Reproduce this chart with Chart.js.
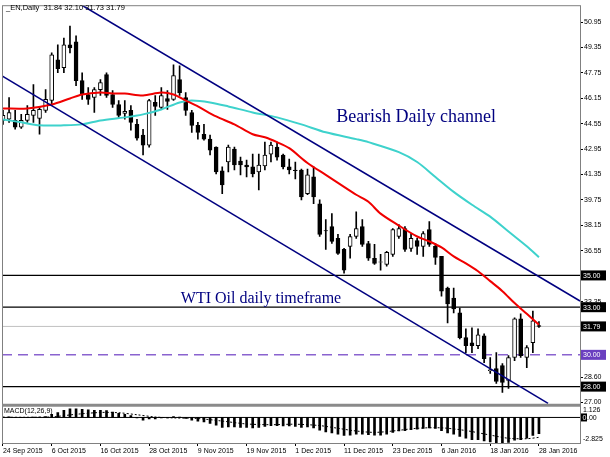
<!DOCTYPE html>
<html>
<head>
<meta charset="utf-8">
<script src="https://cdn.jsdelivr.net/npm/chart.js@4.4.0/dist/chart.umd.min.js"></script>
<style>
html, body { margin: 0; padding: 0; background: #fff; }
</style>
</head>
<body>
<canvas id="myChart" width="610" height="457"></canvas>
<script>
// daily candles, 24 Sep 2015 .. 28 Jan 2016 (bar index 0..88)
const opens = [44.76,44.83,44.76,44.33,44.76,45.08,44.89,45.39,46.01,48.58,
	48.08,49.51,49.70,47.26,46.39,46.20,46.70,47.64,46.39,45.76,
	45.20,45.39,44.51,43.83,43.20,45.89,45.58,46.14,46.08,47.33,
	46.20,45.26,44.45,43.89,43.58,43.08,41.58,42.14,42.95,42.20,
	41.95,41.83,41.51,41.89,42.64,43.08,42.58,41.83,41.64,41.64,
	40.14,41.20,39.51,37.83,38.08,37.33,36.64,36.83,37.45,38.08,
	37.01,36.08,35.83,35.70,36.33,37.45,37.95,36.70,37.20,36.83,
	37.89,36.83,36.20,34.20,33.58,32.64,31.08,30.76,30.58,31.20,
	29.01,29.14,29.33,28.39,29.83,32.26,29.83,30.76,31.84];
const highs = [45.39,46.20,45.39,45.14,45.70,47.01,45.64,46.70,49.01,49.51,
	49.95,50.70,50.08,47.76,46.83,46.83,47.33,47.76,46.64,46.01,
	46.01,45.70,44.83,44.20,46.08,46.33,46.83,46.64,48.26,48.20,
	46.51,45.39,44.64,44.51,43.83,43.10,41.83,43.20,43.08,42.45,
	42.26,42.64,42.64,43.39,43.39,43.39,42.64,42.33,42.14,41.70,
	41.70,41.83,39.76,38.51,38.89,37.58,36.70,37.58,39.01,38.51,
	37.14,36.95,36.33,36.51,37.95,38.20,38.08,37.64,37.33,37.76,
	38.39,37.01,36.20,34.26,34.20,32.95,31.64,31.70,31.64,31.33,
	29.83,30.14,29.45,29.95,32.33,32.58,30.58,32.76,32.10];
const lows = [44.51,44.64,44.20,44.26,44.64,44.64,43.89,45.26,45.70,47.76,
	47.76,49.01,46.95,46.08,45.76,45.26,46.33,46.20,45.58,44.95,
	44.83,44.14,43.51,42.58,43.08,45.08,45.45,45.45,46.01,46.33,
	45.08,44.01,43.58,43.51,42.58,41.39,40.14,41.51,41.64,41.33,
	41.20,41.20,40.39,41.64,42.14,42.26,41.70,41.39,41.08,39.76,
	40.08,39.51,37.45,36.64,37.01,36.33,35.14,36.08,37.33,36.83,
	35.95,35.70,35.33,35.58,36.20,37.33,36.51,36.51,36.33,36.20,
	36.83,35.70,33.70,32.01,32.64,31.01,30.14,30.14,30.39,29.51,
	28.83,28.20,27.64,27.89,29.64,29.83,29.20,30.14,31.73];
const closes = [45.08,45.26,44.33,44.76,45.14,45.39,45.45,46.08,48.89,48.01,
	49.51,49.33,47.26,46.39,46.08,46.70,47.14,46.33,45.76,45.08,
	45.33,44.64,43.64,43.20,46.01,45.64,46.33,45.95,47.58,46.51,
	45.39,44.45,44.01,43.58,42.89,41.51,40.70,43.08,41.95,41.95,
	41.83,41.39,41.95,42.58,43.20,42.45,41.83,41.64,41.60,39.95,
	41.33,39.95,37.58,37.80,37.14,36.39,35.33,37.45,37.95,36.95,
	36.08,35.76,35.86,36.45,37.89,37.95,36.64,37.33,36.83,37.64,
	36.95,36.14,34.01,33.20,32.89,31.08,30.58,30.58,31.26,29.76,
	29.05,28.33,28.26,29.83,32.26,29.95,30.45,32.14,31.79];

// moving averages: [bar, price]
const maRed = [[0,45.51],[4,45.51],[8,45.76],[11,46.14],[13,46.39],[16,46.51],[18,46.45],[20,46.45],
	[23,46.33],[26,46.51],[28,46.39],[30,46.01],[32,45.64],[35,45.01],[38,44.51],[41,43.89],
	[43,43.70],[45,43.39],[47,43.01],[50,42.08],[53,41.33],[56,40.58],[58,40.08],[60,39.64],
	[62,38.89],[65,38.14],[68,37.45],[70,37.14],[72,36.76],[74,36.20],[76,35.76],[78,35.26],
	[80,34.64],[82,34.01],[84,33.26],[86,32.58],[88,31.89]];
const maCyan = [[0,44.82],[3,44.64],[6,44.45],[10,44.45],[13,44.51],[16,44.76],[20,44.95],[23,45.14],
	[26,45.45],[29,45.89],[31,46.01],[34,45.89],[37,45.64],[41,45.26],[45,44.95],[49,44.51],
	[53,44.01],[58,43.58],[60,43.39],[65,42.76],[68,42.14],[71,41.20],[74,40.26],[77,39.45],
	[80,38.70],[83,37.76],[86,36.83],[88,36.14]];

// channel lines: [bar, price] end points
const upperChannel = [[12.97,52.01],[94.75,33.39]];
const lowerChannel = [[-0.49,47.64],[89.5,26.95]];

const hLevels = [35.00, 33.00, 28.00];
const dashedLevel = 30.00;

// MACD(12,26,9)
const macdMain = [0.05,0.06,0.02,-0.02,0.00,0.05,0.05,0.10,0.35,0.55,
	0.80,0.95,0.95,0.90,0.85,0.80,0.80,0.75,0.60,0.45,
	0.35,0.20,-0.05,-0.30,-0.15,-0.15,-0.05,-0.05,0.10,0.05,
	-0.10,-0.30,-0.40,-0.50,-0.65,-0.85,-1.10,-1.05,-1.05,-1.10,
	-1.10,-1.15,-1.10,-1.00,-0.90,-0.90,-0.95,-0.95,-1.00,-1.10,
	-1.05,-1.15,-1.40,-1.60,-1.70,-1.85,-2.00,-1.95,-1.85,-1.85,
	-1.90,-1.95,-1.95,-1.85,-1.65,-1.50,-1.45,-1.35,-1.30,-1.20,
	-1.15,-1.20,-1.45,-1.70,-1.85,-2.10,-2.30,-2.45,-2.45,-2.60,
	-2.70,-2.80,-2.80,-2.75,-2.50,-2.45,-2.30,-2.00,-1.80];
const macdSignal = [[0,0.02],[4,0.02],[8,0.06],[12,0.35],[16,0.55],[19,0.52],[22,0.3],[25,0.05],
	[28,-0.05],[32,-0.12],[36,-0.4],[40,-0.72],[44,-0.8],[48,-0.75],[52,-0.9],[55,-1.2],
	[58,-1.5],[61,-1.65],[64,-1.5],[68,-1.2],[72,-1.15],[76,-1.45],[80,-1.95],[83,-2.3],
	[86,-2.35],[88,-2.2]];

const tickBars = [0,8,16,24,32,40,48,56,64,72,80,88];
const tickLabels = ['24 Sep 2015','6 Oct 2015','16 Oct 2015','28 Oct 2015','9 Nov 2015','19 Nov 2015',
	'1 Dec 2015','11 Dec 2015','23 Dec 2015','6 Jan 2016','18 Jan 2016','28 Jan 2016'];
const priceTicks = [50.95,49.35,47.75,46.15,44.55,42.95,41.35,39.75,38.15,36.55,33.35,28.60,27.00];
const macdTicks = [1.126, -2.825];

const smallFont = { family: '"Liberation Sans", Arial, sans-serif', size: 7 };
const pts = arr => arr.map(p => ({ x: p[0], y: p[1] }));

const overlay = {
	id: 'overlay',
	beforeDatasetsDraw(chart) {
		const { ctx, chartArea: a, scales: { y, yMacd } } = chart;
		ctx.save();
		ctx.beginPath();
		ctx.rect(a.left, y.top, a.right - a.left, y.bottom - y.top);
		ctx.clip();
		// last price line
		let py = y.getPixelForValue(closes[closes.length - 1]);
		ctx.strokeStyle = '#c0c0c0';
		ctx.lineWidth = 1;
		ctx.beginPath(); ctx.moveTo(a.left, py); ctx.lineTo(a.right, py); ctx.stroke();
		// dashed level
		py = y.getPixelForValue(dashedLevel);
		ctx.strokeStyle = '#8a63cf';
		ctx.lineWidth = 1.5;
		ctx.setLineDash([10, 6]);
		ctx.beginPath(); ctx.moveTo(a.left, py); ctx.lineTo(a.right, py); ctx.stroke();
		ctx.setLineDash([]);
		// horizontal levels
		ctx.strokeStyle = '#000';
		ctx.lineWidth = 1.3;
		hLevels.forEach(v => {
			const ly = y.getPixelForValue(v);
			ctx.beginPath(); ctx.moveTo(a.left, ly); ctx.lineTo(a.right, ly); ctx.stroke();
		});
		ctx.restore();
		// macd zero line
		ctx.save();
		const zy = yMacd.getPixelForValue(0);
		ctx.strokeStyle = '#000';
		ctx.lineWidth = 1;
		ctx.beginPath(); ctx.moveTo(a.left, zy); ctx.lineTo(a.right, zy); ctx.stroke();
		ctx.restore();
	},
	afterDraw(chart) {
		const { ctx, chartArea: a, scales: { x, y, yMacd } } = chart;
		ctx.save();
		// frame
		ctx.strokeStyle = '#808080';
		ctx.lineWidth = 1;
		ctx.strokeRect(a.left + 0.5, a.top + 0.5, a.right - a.left, a.bottom - a.top);
		ctx.lineWidth = 3;
		ctx.strokeStyle = '#8a8a8a';
		ctx.beginPath(); ctx.moveTo(a.left, y.bottom); ctx.lineTo(a.right, y.bottom); ctx.stroke();

		// chart texts
		ctx.fillStyle = '#000080';
		ctx.textBaseline = 'middle';
		ctx.textAlign = 'left';
		ctx.font = '18px "Liberation Serif", "Times New Roman", serif';
		ctx.fillText('Bearish Daily channel', x.getPixelForValue(54.7), y.getPixelForValue(44.95));
		ctx.font = '16px "Liberation Serif", "Times New Roman", serif';
		ctx.fillText('WTI Oil daily timeframe', x.getPixelForValue(29.2), y.getPixelForValue(33.56));

		// header
		const n = closes.length - 1;
		ctx.fillStyle = '#000';
		ctx.font = '7.5px "Liberation Sans", Arial, sans-serif';
		ctx.fillText('_EN,Daily  ' + [opens[n], highs[n], lows[n], closes[n]].map(v => v.toFixed(2)).join(' '), 6, 8);
		ctx.font = '7px "Liberation Sans", Arial, sans-serif';
		ctx.fillText('MACD(12,26,9)', 4, yMacd.top + 6);

		// macd axis labels
		ctx.fillText(macdTicks[0].toFixed(3), a.right + 3, yMacd.top + 5);
		ctx.fillText(macdTicks[1].toFixed(3), a.right + 3, yMacd.bottom - 4);

		// price boxes on the axis
		const box = (v, bg, txt) => {
			const by = y.getPixelForValue(v);
			ctx.fillStyle = bg;
			ctx.fillRect(a.right + 1, by - 5, 25, 10);
			ctx.fillStyle = '#fff';
			ctx.fillText(txt, a.right + 3, by + 0.5);
		};
		hLevels.forEach(v => box(v, '#000', v.toFixed(2)));
		box(closes[n], '#000', closes[n].toFixed(2));
		box(dashedLevel, '#6a3fc0', dashedLevel.toFixed(2));

		const zy = yMacd.getPixelForValue(0);
		ctx.fillStyle = '#000';
		ctx.fillRect(a.right + 1, zy - 4, 6, 8);
		ctx.fillText('.00', a.right + 7, zy + 0.5);
		ctx.fillStyle = '#fff';
		ctx.fillText('0', a.right + 2.5, zy + 0.5);
		ctx.restore();
	}
};

const ctx = document.getElementById('myChart');

const myChart = new Chart(ctx, {
	type: 'bar',
	data: {
		datasets: [
			{
				label: 'wick',
				data: lows.map((l, i) => ({ x: i, y: [l, highs[i]] })),
				backgroundColor: '#000',
				barThickness: 1,
				grouped: false,
				order: 4,
				yAxisID: 'y'
			},
			{
				label: 'body',
				data: opens.map((o, i) => ({ x: i, y: [Math.min(o, closes[i]), Math.max(o, closes[i])] })),
				backgroundColor: opens.map((o, i) => closes[i] >= o ? '#fff' : '#000'),
				borderColor: '#000',
				borderWidth: 1,
				borderSkipped: false,
				barThickness: 4,
				grouped: false,
				order: 3,
				yAxisID: 'y'
			},
			{
				type: 'line', label: 'MA red', data: pts(maRed), borderColor: '#f00000', borderWidth: 2,
				pointRadius: 0, tension: 0.3, order: 2, yAxisID: 'y'
			},
			{
				type: 'line', label: 'MA cyan', data: pts(maCyan), borderColor: '#3ed2cc', borderWidth: 2,
				pointRadius: 0, tension: 0.3, order: 2, yAxisID: 'y'
			},
			{
				type: 'line', label: 'upper', data: pts(upperChannel), borderColor: '#000080', borderWidth: 1.5,
				pointRadius: 0, order: 1, yAxisID: 'y'
			},
			{
				type: 'line', label: 'lower', data: pts(lowerChannel), borderColor: '#000080', borderWidth: 1.5,
				pointRadius: 0, order: 1, yAxisID: 'y'
			},
			{
				label: 'MACD',
				data: macdMain.map((v, i) => ({ x: i, y: v })),
				backgroundColor: '#000',
				barThickness: 2,
				grouped: false,
				order: 2,
				yAxisID: 'yMacd'
			},
			{
				type: 'line', label: 'Signal', data: pts(macdSignal), borderColor: '#000', borderWidth: 1,
				borderDash: [2, 2], pointRadius: 0, tension: 0.3, order: 1, yAxisID: 'yMacd'
			}
		]
	},
	options: {
		responsive: false,
		animation: false,
		layout: { padding: { left: 2, top: 2, right: 0, bottom: 0 } },
		scales: {
			x: {
				type: 'linear',
				min: -0.16,
				max: 94.74,
				offset: false,
				grid: { display: true, offset: false, drawOnChartArea: false, drawTicks: true, tickLength: 3, color: '#000' },
				border: { display: false },
				afterBuildTicks: s => { s.ticks = tickBars.map(v => ({ value: v })); },
				afterFit: s => { s.height = 14; },
				ticks: {
					font: smallFont, color: '#000', align: 'start', padding: 1,
					maxRotation: 0, autoSkip: false,
					callback: v => tickLabels[tickBars.indexOf(v)]
				}
			},
			y: {
				type: 'linear',
				position: 'right',
				stack: 'panes',
				stackWeight: 403,
				min: 26.825,
				max: 52.0125,
				grid: { drawOnChartArea: false, tickLength: 3, color: '#000' },
				border: { display: false },
				afterBuildTicks: s => { s.ticks = priceTicks.map(v => ({ value: v })); },
				afterFit: s => { s.width = 30; },
				ticks: { font: smallFont, color: '#000', padding: 1, callback: v => v.toFixed(2) }
			},
			yMacd: {
				type: 'linear',
				position: 'right',
				stack: 'panes',
				stackWeight: 38,
				min: -2.825,
				max: 1.346,
				grid: { display: false },
				border: { display: false },
				afterFit: s => { s.width = 30; },
				ticks: { display: false }
			}
		},
		plugins: {
			legend: { display: false },
			tooltip: { enabled: false }
		}
	},
	plugins: [overlay]
});
</script>
</body>
</html>
